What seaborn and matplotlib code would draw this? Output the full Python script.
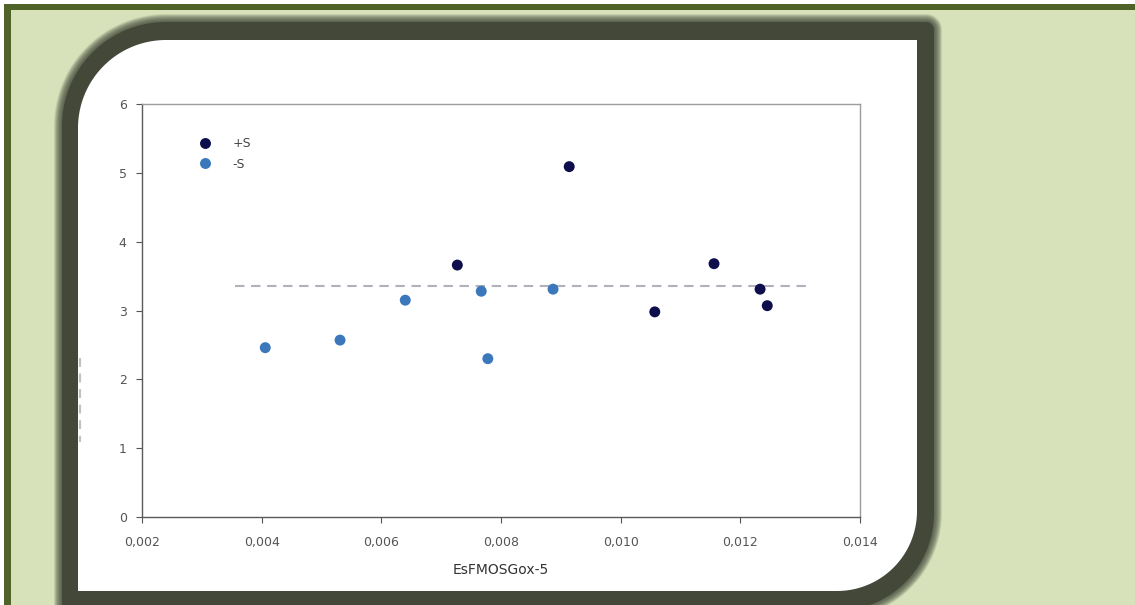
import numpy as np
import pandas as pd
import matplotlib
matplotlib.use("Agg")
import matplotlib.pyplot as plt
from matplotlib.patches import Polygon, Rectangle
import seaborn as sns

# --- data ---
plus_x = [0.00727, 0.00914, 0.01057, 0.01156, 0.01233, 0.01245]
plus_y = [3.66, 5.09, 2.98, 3.68, 3.31, 3.07]
minus_x = [0.00406, 0.00531, 0.00640, 0.00767, 0.00778, 0.00887]
minus_y = [2.46, 2.57, 3.15, 3.28, 2.30, 3.31]
groups = ["+S", "-S"]

ref_x = [0.00355, 0.01311]
ref_y = [3.36, 3.36]

x_ticks = [0.002, 0.004, 0.006, 0.008, 0.010, 0.012, 0.014]
x_tick_labels = ["0,002", "0,004", "0,006", "0,008", "0,010", "0,012", "0,014"]
y_ticks = [0, 1, 2, 3, 4, 5, 6]
y_tick_labels = ["0", "1", "2", "3", "4", "5", "6"]
x_label = "EsFMOSGox-5"

navy = "#0e0e4c"
blue = "#3b77bb"

df = pd.DataFrame({
    "x": plus_x + minus_x,
    "y": plus_y + minus_y,
    "group": [groups[0]] * len(plus_x) + [groups[1]] * len(minus_x),
})

sns.set_theme(style="white")
plt.rcParams["font.family"] = ["DejaVu Sans"]

W, H = 1135, 605
fig = plt.figure(figsize=(W / 100, H / 100), dpi=100)
fig.patch.set_facecolor("white")


def rounded_poly(x0, y0, x1, y1, rtl, rtr, rbr, rbl):
    # pixel coords, y grows downward
    def arc(cx, cy, r, a0, a1):
        t = np.radians(np.linspace(a0, a1, 40))
        return list(zip(cx + r * np.cos(t), cy + r * np.sin(t)))
    pts = []
    pts += arc(x0 + rtl, y0 + rtl, rtl, 180, 270)
    pts += arc(x1 - rtr, y0 + rtr, rtr, 270, 360)
    pts += arc(x1 - rbr, y1 - rbr, rbr, 0, 90)
    pts += arc(x0 + rbl, y1 - rbl, rbl, 90, 180)
    return pts


# background frame
bg = fig.add_axes([0, 0, 1, 1], zorder=-5)
bg.set_xlim(0, W)
bg.set_ylim(H, 0)
bg.axis("off")
bg.add_patch(Rectangle((4, 4), W, H, facecolor="#4f6228", edgecolor="none"))
bg.add_patch(Rectangle((11, 10), W, H, facecolor="#d7e2bb", edgecolor="none"))

# soft dark shadow around the white panel
for d in np.arange(8, 0, -0.5):
    bg.add_patch(Polygon(rounded_poly(62 - d, 22 - d, 934 + d, 611 + d,
                                      104 + d, 8 + d, 98 + d, 0),
                         closed=True, facecolor="#434839", edgecolor="none", alpha=0.09))
bg.add_patch(Polygon(rounded_poly(62, 22, 934, 611, 104, 8, 98, 0),
                     closed=True, facecolor="#434839", edgecolor="none"))
bg.add_patch(Polygon(rounded_poly(78, 40, 917, 591, 88, 0, 80, 0),
                     closed=True, facecolor="white", edgecolor="none"))
# faint remnant of the cut y label
bg.plot([80, 80], [358, 442], color="#9a9a9a", lw=1.6, ls=(0, (4, 3)), alpha=0.6)

# chart
ax = fig.add_axes([142 / W, 1 - 517 / H, (860 - 142) / W, 413 / H])
ax.set_facecolor("white")

ax.plot(ref_x, ref_y, color="#b0b1ba", lw=1.5, dashes=(4.5, 3.2), zorder=2)

sns.scatterplot(data=df, x="x", y="y", hue="group", hue_order=groups,
                palette={groups[0]: navy, groups[1]: blue},
                s=62, linewidth=0, ax=ax, zorder=3)

ax.set_xlim(0.002, 0.014)
ax.set_ylim(0, 6)
ax.set_xticks(x_ticks)
ax.set_xticklabels(x_tick_labels)
ax.set_yticks(y_ticks)
ax.set_yticklabels(y_tick_labels)
ax.set_xlabel(x_label, fontsize=10, color="#333333", labelpad=10)
ax.set_ylabel("")

ax.tick_params(axis="both", direction="out", length=4, width=0.8, color="#555555",
               labelsize=9, labelcolor="#555555")
ax.tick_params(axis="x", pad=10)
ax.tick_params(axis="y", pad=7)
ax.xaxis.set_ticks_position("bottom")
ax.yaxis.set_ticks_position("left")

for side in ["left", "bottom"]:
    ax.spines[side].set_color("#5a5a5a")
    ax.spines[side].set_linewidth(1.0)
for side in ["top", "right"]:
    ax.spines[side].set_color("#9c9c9c")
    ax.spines[side].set_linewidth(1.0)

sns.move_legend(ax, "upper left", bbox_to_anchor=(0.07, 0.92), frameon=False,
                title=None, fontsize=9, labelcolor="#444444",
                handletextpad=1.2, labelspacing=0.6, borderaxespad=0, borderpad=0)

fig.savefig("out.png", dpi=100)
